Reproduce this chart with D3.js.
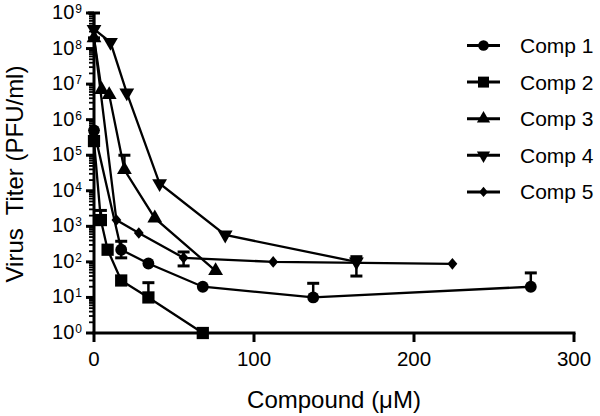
<!DOCTYPE html>
<html>
<head>
<meta charset="utf-8">
<script src="https://cdn.jsdelivr.net/npm/d3@7"></script>
<style>
  body { margin: 0; background: #fff; }
  text { font-family: "Liberation Sans", Arial, sans-serif; fill: #000; }
</style>
</head>
<body>
<svg id="chart" width="600" height="416"></svg>
<script>
const width = 600;
const height = 416;

// concentrations (uM) and titers per compound, [x, y, errLow, errHigh]
const comp1 = [[0, 5e5], [17, 220, 130, 380], [34, 90], [68, 20], [137, 10, 10, 25], [273, 20, 20, 49]];
const comp2 = [[0, 2.5e5], [4.3, 1.5e3, 1.5e3, 2.8e3], [8.5, 220], [17, 30], [34, 10, 10, 26], [68, 1]];
const comp3 = [[0, 2e8], [4.75, 7e6], [9.5, 5e6], [19, 3.9e4, 3.9e4, 1e5], [38, 1.7e3], [76, 56]];
const comp4 = [[0, 3.5e8, 2e8, 1e9], [10.3, 1.5e8], [20.5, 5.7e6], [41, 1.6e4], [82, 575], [164, 100, 40, 140]];
const comp5 = [[0, 2e8], [14, 1.5e3], [28, 650], [56, 130, 77, 190], [112, 100], [224, 88]];

const seriesNames = ['Comp 1', 'Comp 2', 'Comp 3', 'Comp 4', 'Comp 5'];
const seriesData = [comp1, comp2, comp3, comp4, comp5];

const xTicks = [0, 100, 200, 300];
const yExponents = [0, 1, 2, 3, 4, 5, 6, 7, 8, 9];

const x = d3.scaleLinear().domain([0, 300]).range([94, 574]);
const y = d3.scaleLog().domain([1, 1e9]).range([333, 13]);

const shapes = [
    { type: d3.symbolCircle, size: 110, tf: '' },
    { type: d3.symbolSquare, size: 150, tf: '' },
    { type: d3.symbolTriangle, size: 95, tf: '' },
    { type: d3.symbolTriangle, size: 95, tf: ' rotate(180)' },
    { type: d3.symbolDiamond2, size: 85, tf: ' scale(0.85,1)' }
];

const svg = d3.select('#chart');

// Lines
const line = d3.line()
               .x(function(d) { return x(d[0]); })
               .y(function(d) { return y(d[1]); });

const series = svg.selectAll('g.series')
                  .data(seriesData)
                  .join('g')
                  .attr('class', 'series');

series.append('path')
      .attr('d', line)
      .attr('fill', 'none')
      .attr('stroke', '#000')
      .attr('stroke-width', 2.3);

// Error bars
series.selectAll('g.err')
      .data(function(d) {
          return d.filter(function(p) { return p.length > 2; });
      })
      .join('g')
      .attr('class', 'err')
      .each(function(p) {
          const g = d3.select(this);
          const cx = x(p[0]);
          g.append('line')
           .attr('x1', cx).attr('x2', cx)
           .attr('y1', y(p[2])).attr('y2', y(p[3]))
           .attr('stroke', '#000').attr('stroke-width', 2.5);
          [p[2], p[3]].forEach(function(v) {
              if (v === p[1]) return;
              g.append('line')
               .attr('x1', cx - 6).attr('x2', cx + 6)
               .attr('y1', y(v)).attr('y2', y(v))
               .attr('stroke', '#000').attr('stroke-width', 3);
          });
      });

// Markers
series.each(function(d, i) {
    const s = shapes[i];
    d3.select(this).selectAll('path.mark')
      .data(d)
      .join('path')
      .attr('class', 'mark')
      .attr('d', d3.symbol().type(s.type).size(s.size))
      .attr('transform', function(p) {
          return 'translate(' + x(p[0]) + ',' + y(p[1]) + ')' + s.tf;
      })
      .attr('fill', '#000');
});

// Axes
const axes = svg.append('g');

axes.append('line')
    .attr('x1', x(0)).attr('x2', x(0))
    .attr('y1', y(1e9) - 1).attr('y2', y(1))
    .attr('stroke', '#000').attr('stroke-width', 3);

axes.append('line')
    .attr('x1', x(0) - 1.5).attr('x2', x(300) + 1.5)
    .attr('y1', y(1)).attr('y2', y(1))
    .attr('stroke', '#000').attr('stroke-width', 3);

// y major + minor ticks
yExponents.forEach(function(e) {
    const v = Math.pow(10, e);
    axes.append('line')
        .attr('x1', x(0) - 8).attr('x2', x(0))
        .attr('y1', y(v)).attr('y2', y(v))
        .attr('stroke', '#000').attr('stroke-width', 3);
    if (e < 9) {
        for (let m = 2; m <= 9; m++) {
            axes.append('line')
                .attr('x1', x(0) - 5).attr('x2', x(0))
                .attr('y1', y(m * v)).attr('y2', y(m * v))
                .attr('stroke', '#000').attr('stroke-width', 1.8);
        }
    }
    const t = axes.append('text')
                  .attr('x', 82)
                  .attr('y', y(v) + 6)
                  .attr('text-anchor', 'end')
                  .style('font-size', '20px');
    t.append('tspan').text('10');
    t.append('tspan')
     .attr('dx', 1)
     .attr('dy', -6)
     .style('font-size', '12px')
     .text(e);
});

// x ticks
xTicks.forEach(function(v) {
    axes.append('line')
        .attr('x1', x(v)).attr('x2', x(v))
        .attr('y1', y(1)).attr('y2', y(1) + 9)
        .attr('stroke', '#000').attr('stroke-width', 3);
    axes.append('text')
        .attr('x', x(v))
        .attr('y', 366)
        .attr('text-anchor', 'middle')
        .style('font-size', '20.5px')
        .text(v);
});

// Axis titles
svg.append('text')
   .attr('transform', 'translate(23,174) rotate(-90)')
   .attr('text-anchor', 'middle')
   .style('font-size', '24px')
   .style('white-space', 'pre')
   .text('Virus  Titer (PFU/ml)');

svg.append('text')
   .attr('x', 334)
   .attr('y', 408)
   .attr('text-anchor', 'middle')
   .style('font-size', '24px')
   .text('Compound (\u03BCM)');

// Legend
const legend = svg.selectAll('g.legend')
                  .data(seriesNames)
                  .join('g')
                  .attr('class', 'legend')
                  .attr('transform', function(d, i) {
                      return 'translate(467,' + (45.5 + i * 36.6) + ')';
                  });

legend.append('line')
      .attr('x1', 0).attr('x2', 33)
      .attr('stroke', '#000').attr('stroke-width', 3);

legend.append('path')
      .attr('d', function(d, i) {
          return d3.symbol().type(shapes[i].type).size(shapes[i].size * 0.8)();
      })
      .attr('transform', function(d, i) {
          return 'translate(16.5,0)' + shapes[i].tf;
      })
      .attr('fill', '#000');

legend.append('text')
      .attr('x', 53)
      .attr('y', 7.5)
      .style('font-size', '21px')
      .text(function(d) { return d; });
</script>
</body>
</html>
